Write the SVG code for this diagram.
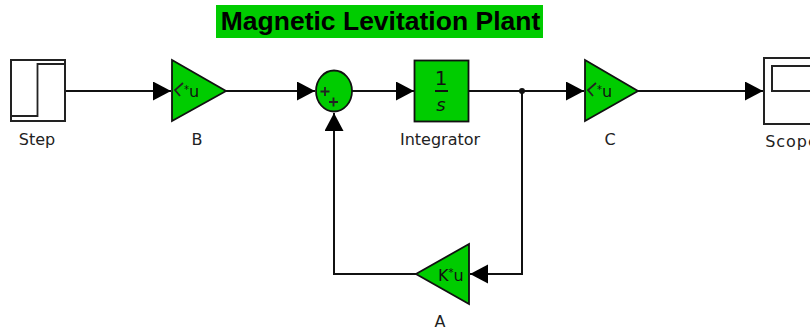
<svg xmlns="http://www.w3.org/2000/svg" width="810" height="331" viewBox="0 0 810 331">
<defs>
<marker id="arr" markerUnits="userSpaceOnUse" markerWidth="19" markerHeight="20" refX="18" refY="9.5" orient="auto"><path d="M0 0L18 9.5L0 19Z" fill="#000"/></marker>
</defs>
<style>
.b{stroke:#222;stroke-width:2;fill:#fff}
.g{stroke:#111;stroke-width:1.8;fill:#00cc00;stroke-linejoin:miter}
.l{font-family:"DejaVu Sans",sans-serif;font-size:16px;fill:#222;text-anchor:middle}
.i{font-family:"DejaVu Sans",sans-serif;fill:#111;text-anchor:middle}
.ic{font-family:"DejaVu Sans",sans-serif;fill:#111;font-size:16px}
.a{font-size:10px}
.c{fill:none;stroke:#111;stroke-width:2}
.t{fill:none;stroke:#222;stroke-width:1.8}
</style>
<rect width="810" height="331" fill="#fff"/>
<g id="title"><rect x="216" y="5" width="327" height="33" fill="#00cc00"/><text x="380.500" y="30" font-family="Liberation Sans,sans-serif" font-size="26.500" font-weight="700" text-anchor="middle" fill="#000">Magnetic Levitation Plant</text></g>
<g id="connectors">
<path class="c" d="M65 91H171" marker-end="url(#arr)"/>
<path class="c" d="M226 91H315" marker-end="url(#arr)"/>
<path class="c" d="M352 91H414" marker-end="url(#arr)"/>
<path class="c" d="M469 91H584" marker-end="url(#arr)"/>
<path class="c" d="M638 91H763" marker-end="url(#arr)"/>
<path class="c" d="M522 91V274H470" marker-end="url(#arr)"/>
<path class="c" d="M416 274H334V113" marker-end="url(#arr)"/>
<circle cx="522" cy="91" r="3" fill="#111"/>
</g>
<g id="step"><rect class="b" x="11" y="60" width="54" height="61"/><path class="t" d="M11 116H37.500V64H65"/><text class="l" x="37" y="145">Step</text></g>
<g id="gainB"><path class="g" d="M172 60L226 91L172 121Z"/><path class="t" d="M180 96L175 90L183 83"/><text class="ic" x="184" y="97"><tspan class="a" dy="-4">*</tspan><tspan dy="4">u</tspan></text><text class="l" x="197" y="145">B</text></g>
<g id="sum"><ellipse class="g" cx="334" cy="91" rx="18" ry="20.500"/><path class="t" d="M320.500 91.500H329.500M325 87V96M329 102H338M333.500 97.500V106.500"/></g>
<g id="integrator"><rect class="g" x="414.500" y="60.500" width="54" height="61"/><text class="i" x="441" y="85" font-size="20">1</text><path class="c" d="M435 91H448"/><text class="i" x="441" y="111" font-size="18" font-style="italic">s</text><text class="l" x="440" y="145">Integrator</text></g>
<g id="gainC"><path class="g" d="M585 60L638 91L585 121Z"/><path class="t" d="M593 96L588 90L596 83"/><text class="ic" x="597" y="97"><tspan class="a" dy="-4">*</tspan><tspan dy="4">u</tspan></text><text class="l" x="610" y="145">C</text></g>
<g id="scope"><rect class="b" x="764" y="58" width="60" height="66"/><rect class="b" x="772" y="66" width="50" height="25"/><text class="l" x="792" y="147" letter-spacing="1">Scope</text></g>
<g id="gainA"><path class="g" d="M469 244V304L416 274Z"/><text class="ic" x="438" y="281" font-size="18">K<tspan class="a" dy="-5">*</tspan><tspan dy="5">u</tspan></text><text class="l" x="440" y="327">A</text></g>
</svg>
